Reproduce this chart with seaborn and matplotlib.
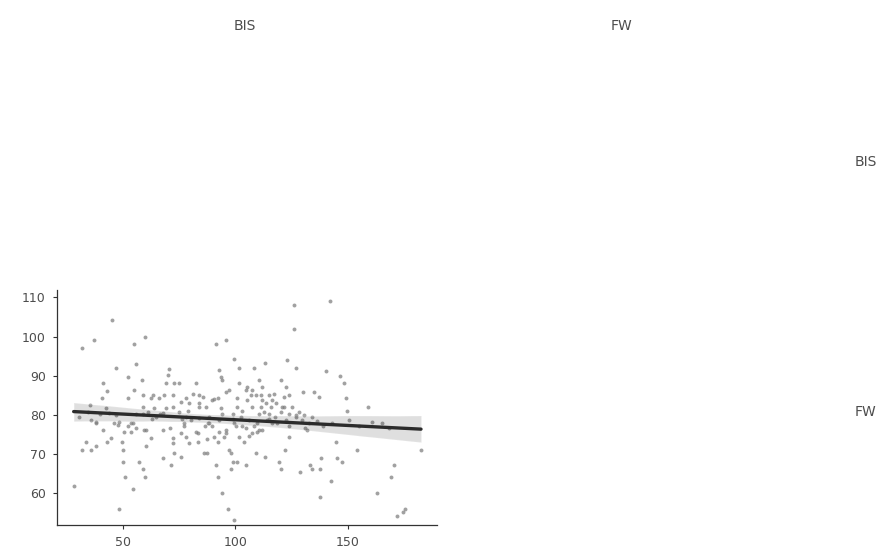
import matplotlib
matplotlib.use("Agg")
import matplotlib.pyplot as plt
import seaborn as sns
import pandas as pd

bis_x = [28.2, 32, 37.2, 32, 33.5, 36, 38.2, 40.9, 43, 41, 45.1, 47, 43, 44.8, 48.5, 49.6, 50, 50,
         51.2, 54.4, 55.2, 55.9, 52.2, 52.2, 55.2, 58.6, 59.9, 59, 63.3, 60.3, 57.4, 59, 59.9, 54.4,
         53.7, 60.3, 62.5, 67.7, 67.7, 68.4, 69.9, 70.6, 71.3, 69.2, 72.9, 75.1, 72.1, 72.1, 72.1,
         72.9, 75.9, 75.9, 77.3, 78, 79.5, 82.4, 83.2, 83.2, 83.9, 86.1, 87.6, 86.9, 83.9, 88.3,
         91.3, 95.7, 92.8, 94.2, 93.5, 92.1, 91.3, 92.1, 94.2, 96.9, 99.4, 92.1, 92.8, 95.1, 97.3,
         98, 98.8, 98, 99.4, 101.6, 101.6, 100.9, 103.8, 104.6, 100.9, 105.3, 108.2, 107.5, 109,
         110.5, 111.2, 113.1, 112, 113.4, 114.9, 109, 113.1, 109.7, 116.4, 119.3, 120.1, 120.1,
         121.5, 122, 123, 123.7, 125.9, 125.9, 127.1, 122.3, 123.7, 128.9, 129.9, 130.4, 131.9,
         133.3, 134.1, 134.8, 137, 137.4, 137.4, 137.8, 140, 141.9, 142.6, 144.7, 145.1, 146.6,
         147.3, 148, 149.3, 149.6, 154, 158.8, 160.6, 162.8, 169.2, 170.6, 171.7, 175.1, 174.3,
         182.4,
         35.3, 34.5, 36, 38.2, 39.7, 42.6, 47, 48.5, 52.2, 53.5, 55.9, 59, 61.1, 64, 64.7, 66.5,
         69.2, 72.1, 75.1, 78, 77.3, 80.2, 81, 85.4, 86.3, 88.3, 89.8, 92.8, 93.5, 94.2, 95.7,
         97.2, 98.8, 99.5, 100.1, 100.9, 102.4, 103.1, 104.6, 105.3, 106, 106.8, 107.5, 108.2,
         109.7, 110.5, 111.2, 112, 112.7, 114.2, 114.9, 115.6, 116.4, 117.1, 117.8, 118.6, 120.1,
         120.8, 121.5, 122.3, 123.7, 125.2, 126.7, 128.1, 129.6, 132.5, 134, 136.1, 139, 142.9,
         150.4, 154.9, 165.3, 168.3,
         78, 79.5, 82.4, 87.6, 90.5, 95.7, 101.6, 104.6, 107.5, 112, 89.8, 83.9, 76, 66.2, 62.5,
         59, 56, 50.4, 47.7, 41, 38.2, 59.5, 63, 68, 71, 76.5, 79, 84, 88, 90.5, 96, 99, 103,
         106, 110.5, 115, 118, 124, 127, 131, 44, 46, 30.5]
fw_y = [61.9, 97, 99.2, 71, 73.1, 71, 72.1, 84.2, 86, 88.1, 104.1, 92, 73.1, 74, 56, 73.1, 71, 68,
        64.2, 61, 98.1, 93, 89.7, 84.2, 86.3, 89, 100, 85.1, 85.1, 71.9, 68, 66, 64.2, 77.8,
        75.7, 76.1, 74, 76.1, 68.9, 85.1, 90.1, 91.8, 67.2, 88, 88.1, 88.1, 85.1, 74, 72.7,
        70.2, 69.3, 75.3, 77.8, 84.2, 82.9, 88.1, 75.3, 73.1, 85.1, 70.2, 70.2, 82, 79.1, 77.8,
        98.1, 99.2, 91.4, 88.8, 89.7, 84.2, 67.2, 64.2, 60, 55.9, 53.2, 73.1, 75.7, 74.4, 71,
        70.2, 68, 66, 94.2, 92, 88, 84.2, 73.1, 67.2, 68, 87.1, 92, 86.3, 85.1,
        88.8, 85.1, 93.2, 87.1, 82.9, 85.1, 70.2, 69.3, 75.7, 77.8, 68, 66, 88.8,
        82, 71, 94.1, 74.4, 108.1, 101.9, 92, 87.1, 85.1, 65.3, 85.8, 79.9, 76.1,
        67.2, 66, 85.8, 84.6, 66, 59, 68.9, 91.2, 109.2, 63.1, 73.1, 68.9, 90,
        68, 88.1, 84.2, 81, 71, 82, 78.2, 60, 64.2, 67.2, 54.2, 55.8, 55.1,
        71,
        82.5, 80.8, 78.6, 78.2, 80.3, 81.6, 79.9, 78.2, 77, 77.8, 80.3, 82, 80.8, 81.6, 79.5, 80.3,
        81.6, 82, 80.8, 79.5, 77, 78.6, 85.4, 84.6, 77, 79.5, 77, 78.6, 81.6, 80.3, 85.8,
        86.3, 80.3, 77.8, 77, 82, 79.5, 77, 86.3, 83.7, 78.6, 85.1, 82, 77,
        77.8, 80.3, 82, 83.7, 80.8, 78.6, 80.3, 82, 83.7, 85.4, 79.5, 77.8, 80.8,
        82, 84.6, 78.6, 80.3, 82, 79.5, 80.8, 78.6, 77.8, 79.5, 78.3, 77, 77.8,
        78.6, 77, 77.8, 76.5,
        74.4, 72.7, 75.7, 73.7, 74.4, 75.3, 74.4, 76.5, 75.3, 76.1, 83.7, 82, 83.2, 84.2, 84.2,
        80.3, 76.5, 75.7, 77.3, 76.1, 77.8, 76, 79, 80.5, 76.5, 79, 81, 83, 78, 84, 76, 79, 81,
        74.5, 76, 79, 83, 77, 80, 76.5, 80.5, 78, 79.5]

df = pd.DataFrame({"BIS": bis_x, "FW": fw_y})

sns.set_style("white")
plt.rcParams["font.family"] = ["DejaVu Sans"]

fig = plt.figure(figsize=(8.9, 5.55), dpi=100)
ax = fig.add_axes([57 / 890, 30 / 555, 380 / 890, 235 / 555])

sns.regplot(data=df, x="BIS", y="FW", ax=ax, ci=95, n_boot=500, seed=1,
            scatter_kws=dict(s=8, color="#7a7a7a", alpha=0.7, linewidths=0),
            line_kws=dict(color="#2b2b2b", lw=2.4),
            color="#8a8a8a")

ax.set_xlim(20.8, 189.5)
ax.set_ylim(51.8, 111.9)
ax.set_xticks([50, 100, 150])
ax.set_yticks([60, 70, 80, 90, 100, 110])
ax.set_xlabel("")
ax.set_ylabel("")
for s in ["top", "right"]:
    ax.spines[s].set_visible(False)
for s in ["left", "bottom"]:
    ax.spines[s].set_color("#333333")
    ax.spines[s].set_linewidth(0.9)
ax.tick_params(axis="both", which="major", length=3, width=0.8, color="#333333",
               labelsize=9, labelcolor="#4d4d4d", pad=5, left=True, bottom=True)

txt = dict(fontsize=10, color="#4d4d4d", ha="center", va="center")
fig.text(245 / 890, 1 - 26 / 555, "BIS", **txt)
fig.text(622 / 890, 1 - 26 / 555, "FW", **txt)
fig.text(866 / 890, 1 - 162 / 555, "BIS", **txt)
fig.text(866 / 890, 1 - 412 / 555, "FW", **txt)

fig.savefig("out.png", dpi=100)
